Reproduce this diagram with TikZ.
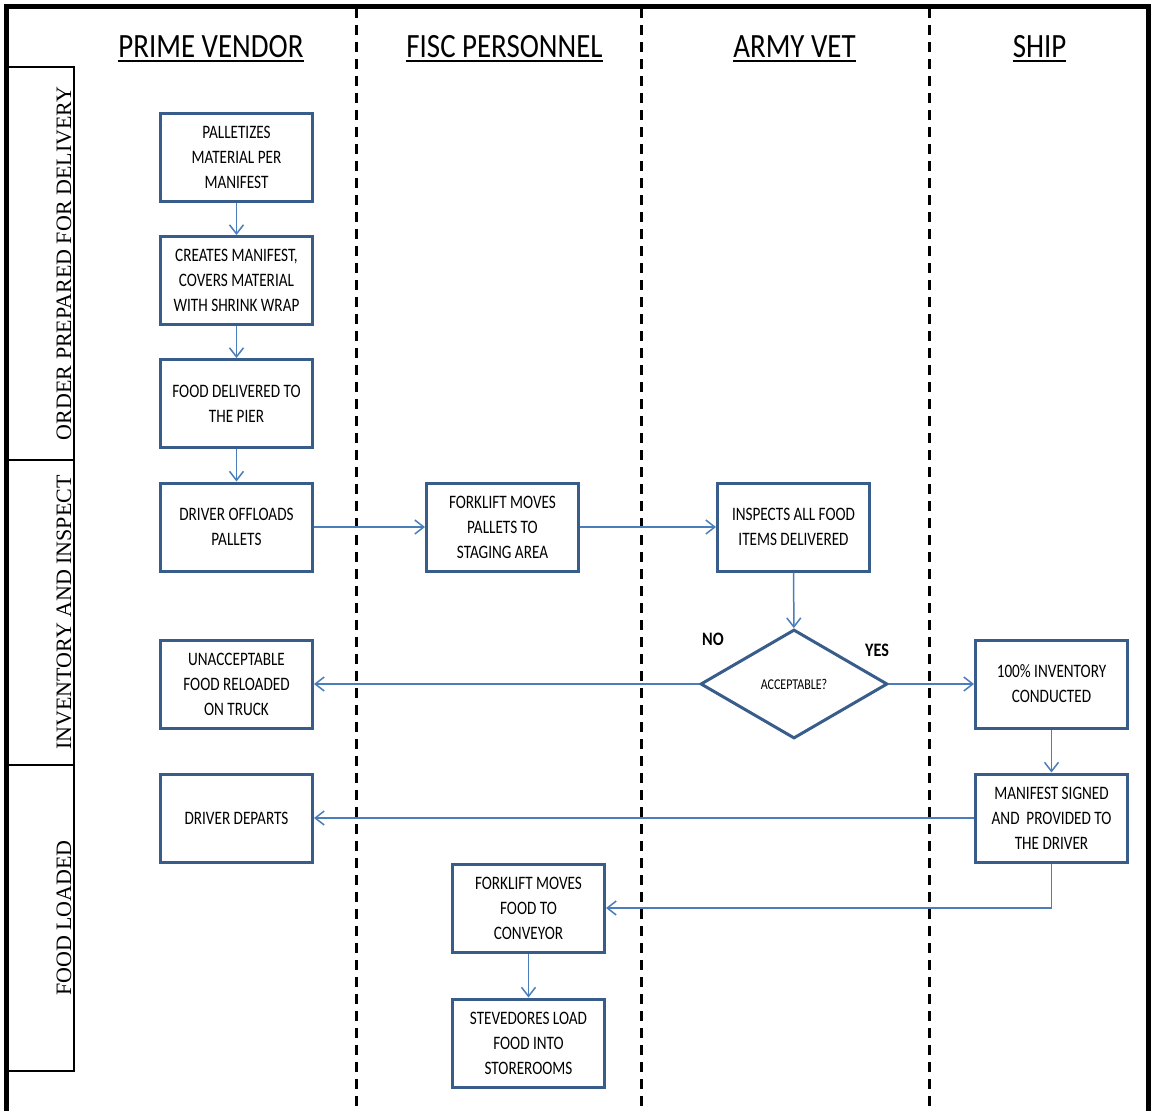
\documentclass[tikz,border=0pt]{standalone}
\usepackage{fontspec}
\usepackage{tikz}
\usetikzlibrary{shapes.geometric}
\usetikzlibrary{arrows.meta}
\newfontfamily\boxfont[FakeStretch=0.8]{Carlito}
\newfontfamily\headfont[FakeStretch=0.85]{Carlito}
\newfontfamily\lanefont{Liberation Serif}
\definecolor{boxblue}{RGB}{56,93,138}
\definecolor{flowblue}{RGB}{74,126,187}
\tikzset{
every picture/.style={x=1pt, y=-1pt},
%%%%%%%%%%  Node styles
process/.style={draw=boxblue, line width=3pt, fill=white, minimum width=152pt,
                minimum height=88pt, inner sep=2pt, align=center,
                font=\boxfont\fontsize{19}{25}\selectfont},
decision/.style={diamond, draw=boxblue, line width=3pt, fill=white, aspect=1.7,
                 minimum width=187pt, minimum height=109pt, inner sep=0pt,
                 font=\boxfont\fontsize{15}{18}\selectfont},
header/.style={anchor=base, inner sep=0pt, font=\headfont\fontsize{34}{40}\selectfont},
lane_label/.style={rotate=90, inner sep=0pt, font=\lanefont\fontsize{22}{26}\selectfont},
answer/.style={inner sep=0pt, font=\headfont\bfseries\fontsize{19}{22}\selectfont},
%%%% different line styles:
flow/.style={draw=flowblue, line width=1.5pt,
             -{Straight Barb[length=9pt, width=14pt, line width=1.5pt]}},
lane_line/.style={black, line width=3pt, dash pattern=on 10pt off 7pt},
frame/.style={black, line width=5pt},
band/.style={black, line width=2.5pt}
}
\begin{document}
\begin{tikzpicture}
\useasboundingbox (0,0) rectangle (1151,1111);
%%%%%%% frame and lanes
\draw[frame] (6,1111) -- (6,6) -- (1148,6) -- (1148,1111);
\draw[band] (6,67) -- (74,67) -- (74,1071) -- (6,1071);
\draw[band] (6,460) -- (74,460);
\draw[band] (6,765) -- (74,765);
\foreach \lx in {356,641,929}
  \draw[lane_line] (\lx,8) -- (\lx,1111);
\node[lane_label] (lOrder) at (64,263.5) {ORDER PREPARED FOR DELIVERY};
\node[lane_label] (lInv) at (64,612.5) {INVENTORY AND INSPECT};
\node[lane_label] (lLoad) at (64,918) {FOOD LOADED};
%%%%%%% headers
\foreach \hname/\hpos/\htxt in {hPV/211/PRIME VENDOR, hFP/504.5/FISC PERSONNEL,
                                hAV/794.5/ARMY VET, hSH/1039.5/SHIP} {
  \node[header] (\hname) at (\hpos,57) {\htxt};
  \draw[line width=2.5pt] ([yshift=-4pt]\hname.base west) -- ([yshift=-4pt]\hname.base east);
}
%%%%%%% steps
\node[process] (pallet) at (236.5,157.5) {PALLETIZES\\MATERIAL PER\\MANIFEST};
\node[process] (manifest) at (236.5,280.5) {CREATES MANIFEST,\\COVERS MATERIAL\\WITH SHRINK WRAP};
\node[process] (pier) at (236.5,403.5) {FOOD DELIVERED TO\\THE PIER};
\node[process] (offload) at (236.5,527) {DRIVER OFFLOADS\\PALLETS};
\node[process] (staging) at (502.5,527) {FORKLIFT MOVES\\PALLETS TO\\STAGING AREA};
\node[process] (inspect) at (793.5,527) {INSPECTS ALL FOOD\\ITEMS DELIVERED};
\node[decision] (accept) at (794,684) {ACCEPTABLE?};
\node[process] (reload) at (236.5,684) {UNACCEPTABLE\\FOOD RELOADED\\ON TRUCK};
\node[process] (inventory) at (1051.5,684) {100\% INVENTORY\\CONDUCTED};
\node[process] (signed) at (1051.5,818) {MANIFEST SIGNED\\AND\ \ PROVIDED TO\\THE DRIVER};
\node[process] (departs) at (236.5,818) {DRIVER DEPARTS};
\node[process] (conveyor) at (528.5,908) {FORKLIFT MOVES\\FOOD TO\\CONVEYOR};
\node[process] (stow) at (528.5,1043) {STEVEDORES LOAD\\FOOD INTO\\STOREROOMS};
\node[answer] (no) at (713,639) {NO};
\node[answer] (yes) at (877,650) {YES};
%%%%%%% connectors
\draw[flow] (pallet) -- (manifest);
\draw[flow] (manifest) -- (pier);
\draw[flow] (pier) -- (offload);
\draw[flow] (offload) -- (staging);
\draw[flow] (staging) -- (inspect);
\draw[flow] (inspect) -- (accept);
\draw[flow] (accept.west) -- (reload.east);
\draw[flow] (accept.east) -- (inventory.west);
\draw[flow] (inventory) -- (signed);
\draw[flow] (signed.west) -- (departs.east);
\draw[flow] (signed.south) |- (conveyor.east);
\draw[flow] (conveyor) -- (stow);
\end{tikzpicture}
\end{document}
